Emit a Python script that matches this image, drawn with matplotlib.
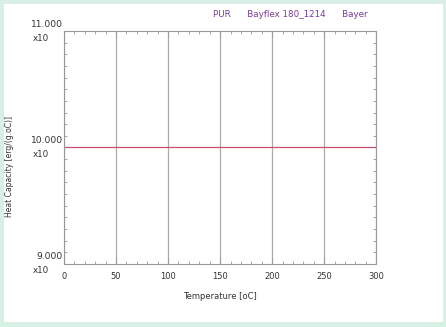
import matplotlib.pyplot as plt
from matplotlib.patches import Rectangle
from matplotlib.ticker import MultipleLocator

# data
temperature = [0, 300]
heat_capacity = [10.0, 10.0]
x_ticks = [0, 50, 100, 150, 200, 250, 300]
y_ticks = [9.0, 10.0, 11.0]
y_tick_labels = ["9.000", "10.000", "11.000"]

fig = plt.figure(figsize=(4.46, 3.27), dpi=100)
fig.patch.set_facecolor("white")
# mint frame round the picture
fig.patches.append(Rectangle((0, 0), 1, 1, transform=fig.transFigure,
                             fill=False, edgecolor="#d8efe6", linewidth=5))
fig.patches.append(Rectangle((0, 0), 1, 0.015, transform=fig.transFigure,
                             facecolor="#d8efe6", edgecolor="none"))

ax = fig.add_axes([0.1435, 0.193, 0.70, 0.712])
ax.plot(temperature, heat_capacity, color="#c8506e", linewidth=0.9)

ax.set_xlim(0, 300)
ax.set_ylim(9.0, 11.0)
ax.set_xticks(x_ticks)
ax.set_xticklabels([str(t) for t in x_ticks], fontsize=6, color="#333333")
ax.set_yticks(y_ticks)
ax.set_yticklabels([])
ax.xaxis.set_minor_locator(MultipleLocator(10))
ax.yaxis.set_minor_locator(MultipleLocator(0.1))
ax.tick_params(which="both", direction="in", top=True, right=True,
               color="#999999", width=0.6)
ax.tick_params(which="major", length=4, pad=6)
ax.tick_params(which="minor", length=2)
ax.grid(axis="x", color="#aaaaaa", linewidth=0.9)
for s in ax.spines.values():
    s.set_color("#999999")
    s.set_linewidth(0.8)

# y tick labels in the old "value / x10" style
for v, lab in zip(y_ticks, y_tick_labels):
    ax.annotate(lab, (0, v), xytext=(-1, 5), textcoords="offset points",
                ha="right", va="center", fontsize=6.6, color="#333333",
                annotation_clip=False)
    ax.annotate("x10", (0, v), xytext=(-11, -5), textcoords="offset points",
                ha="right", va="center", fontsize=6.3, color="#333333",
                annotation_clip=False)

ax.set_xlabel("Temperature [oC]", fontsize=6, color="#333333", labelpad=8)
fig.text(0.022, 0.49, "Heat Capacity [erg/(g.oC)]", rotation=90,
         fontsize=5.5, color="#333333", ha="center", va="center")

fig.text(0.478, 0.955, "PUR      Bayflex 180_1214      Bayer", fontsize=6.3,
         color="#7a3a9a", ha="left", va="center")

fig.savefig("out.png", dpi=100)
